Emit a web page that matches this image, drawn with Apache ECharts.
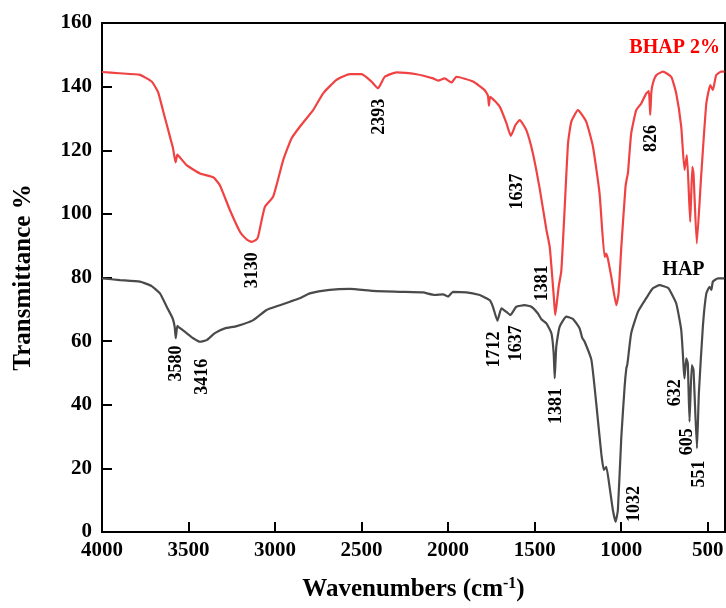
<!DOCTYPE html>
<html>
<head>
<meta charset="utf-8">
<script src="https://cdn.jsdelivr.net/npm/echarts@6/dist/echarts.min.js"></script>
<style>html,body{margin:0;padding:0;background:#fff}#c{width:726px;height:608px}</style>
</head>
<body>
<div id="c"></div>
<script>
// ---- data ----
const bhapWavenumbers = [4000,3900,3781,3713,3677,3648,3607,3590,3575,3565,3557,3511,3434,3357,3319,3261,3203,3160,3136,3110,3098,3059,3011,2953,2905,2857,2780,2722,2645,2568,2500,2443,2405,2366,2298,2183,2087,2058,2020,1981,1952,1856,1789,1770,1764,1757,1702,1663,1638,1610,1586,1548,1510,1471,1432,1413,1398,1388,1381,1372,1360,1346,1327,1307,1288,1250,1202,1163,1125,1096,1088,1077,1057,1028,1015,999,975,966,961,942,913,884,855,840,832,826,817,797,759,711,682,653,634,620,601,589,582,563,538,508,485,470,451,422,403];
const bhapValues      = [144.6,144.2,143.7,141.6,138.4,132.6,124.2,120.7,116.2,118.6,118.2,115.3,112.7,111.5,109.0,101.2,94.4,91.8,91.2,91.8,92.8,102.2,105.4,116.9,123.7,127.4,132.6,137.9,142.1,143.9,143.9,141.6,139.5,143.1,144.5,143.9,142.6,141.9,142.6,141.3,143.1,141.6,138.9,137.2,134.0,136.8,133.7,128.5,124.5,128.0,129.5,126.3,119.0,108.0,95.0,89.7,80.0,73.0,68.2,72.0,77.5,82.0,101.2,122.2,129.0,132.6,129.0,121.1,106.5,86.5,87.5,86.0,80.2,71.3,75.0,89.7,108.5,111.5,112.7,125.3,132.6,134.7,137.9,138.6,131.1,138.0,141.0,143.6,144.7,143.1,137.9,127.4,113.8,118.5,97.5,114.8,112.7,90.7,111.7,134.7,140.5,138.9,143.6,144.7,144.7];

const hapWavenumbers = [4000,3896,3781,3713,3665,3626,3592,3580,3574,3565,3559,3511,3473,3434,3395,3348,3290,3222,3126,3049,2972,2914,2857,2799,2684,2568,2434,2279,2145,2077,2029,2000,1972,1894,1817,1798,1760,1741,1715,1692,1663,1640,1606,1558,1519,1481,1461,1432,1403,1390,1384,1375,1356,1317,1279,1240,1225,1211,1172,1144,1115,1100,1086,1067,1048,1032,1019,999,980,970,965,961,942,903,855,817,778,730,720,682,653,638,634,624,615,605,592,582,562,551,528,508,489,479,470,441,403];
const hapValues      = [79.7,79.2,78.7,77.3,75.0,70.8,67.2,64.5,60.9,64.8,64.5,62.5,60.9,59.8,60.3,62.5,64.0,64.7,66.6,69.8,71.3,72.4,73.5,75.0,76.1,76.4,75.8,75.5,75.3,74.5,74.7,74.0,75.5,75.3,74.5,74.0,72.9,70.8,66.4,70.3,69.2,68.2,70.8,71.3,70.8,68.7,66.9,65.6,62.5,56.2,48.3,58.2,64.5,67.7,67.0,64.0,61.0,59.8,54.1,40.4,24.7,19.5,20.5,14.2,6.9,3.2,6.9,30.0,45.7,51.5,52.5,54.1,62.5,69.2,73.5,76.6,77.6,76.8,76.1,71.9,63.5,50.9,48.3,54.6,53.0,34.7,52.5,50.9,26.3,43.6,64.5,75.0,77.1,76.1,78.7,79.7,79.7];

// peak annotations (anchored in data coordinates)
const peakTexts       = ['3130','2393','1637','1381','826','3580','3416','1712','1637','1381','1032','632','605','551'];
const peakWavenumbers = [3134,2399,1600,1455,826,3573,3419,1735,1606,1375,922,686,615,547];
const peakValues      = [82.3,130.5,107.0,78.2,123.7,53.0,48.8,57.4,59.3,39.6,8.8,43.8,28.4,18.2];

const seriesNames = ['BHAP 2%','HAP'];
const seriesColors = ['#ff0000','#000000'];
const nameWavenumbers = [691,640];
const nameValues = [152.1,82.3];

const xTicks = [500,1000,1500,2000,2500,3000,3500,4000];

// ---- chart ----
const FONT = "'Liberation Serif','Times New Roman',serif";
const zip = (a,b) => a.map((v,i) => [v,b[i]]);
const chart = echarts.init(document.getElementById('c'), null, {renderer:'canvas'});
chart.setOption({
  animation:false,
  backgroundColor:'#fff',
  grid:{left:102,right:1,top:23,bottom:76,outerBoundsMode:'none',containLabel:false,
        show:true,borderColor:'#000',borderWidth:2,backgroundColor:'transparent'},
  xAxis:{
    type:'value',inverse:true,min:400,max:4000,
    axisLine:{show:true,onZero:false,lineStyle:{color:'#000',width:2}},
    axisTick:{show:true,inside:true,length:10,lineStyle:{color:'#000',width:2},customValues:xTicks},
    axisLabel:{show:true,margin:8,color:'#000',fontFamily:FONT,fontWeight:'bold',fontSize:21,
               customValues:xTicks,formatter:(v)=>String(v)},
    splitLine:{show:false},
    name:'Wavenumbers (cm{sup|-1})',nameLocation:'middle',nameGap:44,
    nameTextStyle:{color:'#000',fontFamily:FONT,fontWeight:'bold',fontSize:25,
      rich:{sup:{fontFamily:FONT,fontWeight:'bold',fontSize:16,verticalAlign:'top',padding:[0,0,12,0],color:'#000'}}}
  },
  yAxis:{
    type:'value',min:0,max:160,interval:20,
    axisLine:{show:true,lineStyle:{color:'#000',width:2}},
    axisTick:{show:true,inside:true,length:10,lineStyle:{color:'#000',width:2}},
    axisLabel:{margin:10,color:'#000',fontFamily:FONT,fontWeight:'bold',fontSize:21},
    splitLine:{show:false},
    name:'Transmittance %',nameLocation:'middle',nameGap:66,
    nameTextStyle:{color:'#000',fontFamily:FONT,fontWeight:'bold',fontSize:25}
  },
  series:[
    {type:'line',name:'HAP',data:zip(hapWavenumbers,hapValues),showSymbol:false,symbol:'none',
     lineStyle:{color:'#4a4a4a',width:2.2},smooth:0.15},
    {type:'line',name:'BHAP 2%',data:zip(bhapWavenumbers,bhapValues),showSymbol:false,symbol:'none',
     lineStyle:{color:'#f04242',width:2.2},smooth:0.15},
    {type:'scatter',symbolSize:0,silent:true,itemStyle:{opacity:1},
     data:peakTexts.map((t,i)=>({name:t,value:[peakWavenumbers[i],peakValues[i]]})),
     label:{show:true,position:'inside',rotate:90,formatter:'{b}',color:'#000',fontFamily:FONT,fontWeight:'bold',fontSize:18}},
    {type:'scatter',symbolSize:0,silent:true,itemStyle:{opacity:1},
     data:seriesNames.map((t,i)=>({name:t,value:[nameWavenumbers[i],nameValues[i]],
       label:{color:seriesColors[i]}})),
     label:{show:true,position:'inside',formatter:'{b}',fontFamily:FONT,fontWeight:'bold',fontSize:20}}
  ]
});
</script>
</body>
</html>
